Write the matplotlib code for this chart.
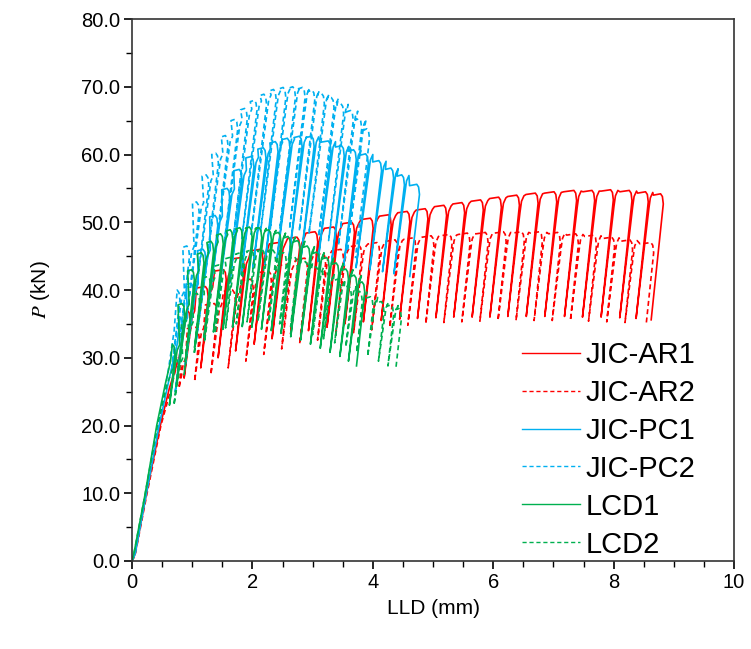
import matplotlib
matplotlib.use("Agg")
import matplotlib.pyplot as plt
from matplotlib.ticker import MultipleLocator, FormatStrFormatter

plt.rcParams['font.family'] = ['Liberation Sans', 'DejaVu Sans']
plt.rcParams['mathtext.fontset'] = 'stix'

# ---- data (LLD in mm, P in kN) ----
# initial loading branch before the first unloading
ar1_load_x = [0.0, 0.05, 0.24, 0.47, 0.62, 0.78]
ar1_load_P = [0.0, 1.0, 10.0, 20.0, 25.5, 30.0]
# peak LLD, peak load and load at the end of each unloading
ar1_x = [0.95, 1.25, 1.55, 1.85, 2.16, 2.46, 2.77, 3.07, 3.38, 3.68, 3.99, 4.29, 4.60, 4.90,
         5.21, 5.51, 5.82, 6.12, 6.42, 6.73, 7.04, 7.37, 7.67, 7.98, 8.29, 8.56, 8.81]
ar1_P = [37.0, 40.5, 43.0, 44.8, 46.0, 47.0, 47.8, 48.6, 49.3, 50.0, 50.6, 51.1, 51.6, 52.0,
         52.5, 52.9, 53.3, 53.7, 54.0, 54.3, 54.5, 54.7, 54.7, 54.8, 54.7, 54.5, 54.2]
ar1_low = [27.0, 28.5, 30.0, 31.0, 32.0, 32.8, 33.5, 34.0, 34.5, 35.0, 35.3, 35.5, 35.7, 35.8,
           35.9, 36.0, 36.0, 36.0, 36.1, 36.1, 36.1, 36.1, 36.0, 36.0, 35.9, 35.8, 35.6]

ar2_load_x = [0.0, 0.05, 0.25, 0.48, 0.65]
ar2_load_P = [0.0, 0.8, 10.0, 20.0, 25.5]
ar2_x = [0.80, 1.10, 1.40, 1.70, 2.00, 2.30, 2.60, 2.90, 3.20, 3.50, 3.80, 4.10, 4.40, 4.70,
         5.00, 5.30, 5.60, 5.90, 6.20, 6.50, 6.80, 7.10, 7.40, 7.70, 8.00, 8.30, 8.65]
ar2_P = [30.0, 34.5, 38.0, 40.0, 41.6, 42.8, 43.8, 44.7, 45.4, 46.0, 46.6, 47.0, 47.4, 47.7,
         48.0, 48.2, 48.4, 48.5, 48.6, 48.6, 48.6, 48.5, 48.3, 48.1, 47.8, 47.4, 47.0]
ar2_low = [25.5, 26.5, 27.5, 28.5, 29.5, 30.5, 31.3, 32.0, 32.6, 33.2, 33.7, 34.1, 34.5, 34.8,
           35.0, 35.2, 35.3, 35.4, 35.5, 35.5, 35.5, 35.5, 35.5, 35.4, 35.3, 35.2, 35.0]

pc1_load_x = [0.0, 0.05, 0.24, 0.45, 0.62, 0.75]
pc1_load_P = [0.0, 1.0, 10.0, 20.0, 27.0, 32.0]
pc1_x = [0.83, 1.01, 1.21, 1.41, 1.61, 1.81, 2.01, 2.21, 2.41, 2.61, 2.81, 3.01, 3.29, 3.51,
         3.71, 3.91, 4.13, 4.33, 4.51, 4.76]
pc1_P = [36.0, 41.0, 46.0, 51.0, 55.0, 57.8, 59.7, 61.0, 61.9, 62.4, 62.7, 62.7, 62.0, 61.3,
         60.7, 60.1, 59.1, 58.0, 57.0, 55.6]
pc1_low = [25.0, 29.0, 32.5, 36.0, 39.0, 41.0, 42.3, 43.2, 43.8, 44.2, 44.4, 44.4, 44.2, 43.9,
           43.6, 43.3, 43.0, 42.7, 42.4, 42.0]

pc2_load_x = [0.0, 0.05, 0.23, 0.44, 0.60, 0.70]
pc2_load_P = [0.0, 1.0, 10.0, 20.0, 28.0, 34.0]
pc2_x = [0.78, 0.94, 1.10, 1.26, 1.42, 1.58, 1.74, 1.90, 2.06, 2.22, 2.38, 2.54, 2.70, 2.86,
         3.02, 3.18, 3.34, 3.50, 3.66, 3.80, 3.93]
pc2_P = [40.0, 46.5, 53.0, 57.0, 60.2, 62.8, 65.2, 66.8, 68.0, 68.9, 69.6, 69.9, 70.0, 69.9,
         69.5, 69.0, 68.4, 67.5, 66.5, 65.3, 63.8]
pc2_low = [28.0, 32.5, 37.0, 40.0, 42.0, 44.0, 45.6, 46.8, 47.6, 48.2, 48.7, 49.0, 49.0, 49.0,
           48.7, 48.3, 47.9, 47.3, 46.6, 45.7, 44.7]

lcd1_load_x = [0.0, 0.04, 0.22, 0.41, 0.55, 0.64]
lcd1_load_P = [0.0, 1.5, 10.0, 20.0, 26.0, 29.5]
lcd1_x = [0.70, 0.86, 1.02, 1.18, 1.34, 1.50, 1.66, 1.82, 1.98, 2.14, 2.30, 2.46, 2.62, 2.78,
          2.94, 3.10, 3.26, 3.42, 3.58, 3.72, 3.85]
lcd1_P = [32.0, 38.0, 43.0, 45.5, 47.2, 48.3, 48.9, 49.2, 49.3, 49.2, 48.9, 48.5, 47.9, 47.3,
          46.5, 45.6, 44.8, 44.0, 43.1, 42.2, 41.2]
lcd1_low = [23.0, 26.5, 29.5, 31.5, 33.0, 33.8, 34.2, 34.5, 34.6, 34.5, 34.2, 34.0, 33.6, 33.1,
            32.6, 32.0, 31.4, 30.8, 30.2, 29.5, 28.8]

lcd2_load_x = [0.0, 0.04, 0.22, 0.42, 0.58, 0.68]
lcd2_load_P = [0.0, 1.5, 10.0, 20.0, 26.0, 28.5]
lcd2_x = [0.75, 0.93, 1.11, 1.29, 1.47, 1.65, 1.83, 2.01, 2.19, 2.37, 2.55, 2.73, 2.91, 3.09,
          3.27, 3.45, 3.63, 3.81, 3.99, 4.17, 4.33, 4.46]
lcd2_P = [30.0, 35.5, 39.5, 42.0, 43.7, 44.8, 45.5, 45.9, 46.0, 45.9, 45.5, 44.9, 44.2, 43.4,
          42.5, 41.6, 40.6, 39.8, 39.0, 38.3, 37.8, 37.3]
lcd2_low = [23.0, 27.5, 30.5, 32.3, 33.6, 34.4, 35.0, 35.3, 35.4, 35.3, 35.0, 34.6, 34.0, 33.4,
            32.8, 32.2, 31.6, 30.8, 30.2, 29.5, 28.8, 28.5]

labels = ['JIC-AR1', 'JIC-AR2', 'JIC-PC1', 'JIC-PC2', 'LCD1', 'LCD2']
colors = ['#FF0000', '#FF0000', '#00B0F0', '#00B0F0', '#00B050', '#00B050']
styles = ['-', '--', '-', '--', '-', '--']
unload_k = [85, 85, 75, 75, 80, 80]  # unloading stiffness, kN/mm


def cycle_path(lx, lp, cx, cp, cl, k):
    """Loading branch + partial unloading/reloading loops."""
    xs, ys = list(lx), list(lp)
    n = len(cx)
    for i in range(n):
        x0, p0, lo = cx[i], cp[i], cl[i]
        # rounded knee, then unload
        xs += [x0 - 0.03, x0, x0 + 0.015]
        ys += [p0, p0 - 0.4, p0 - 1.5]
        xb = x0 + 0.015 - (p0 - 1.5 - lo) / k
        xs.append(xb)
        ys.append(lo)
        if i == n - 1:
            break
        # reload and rejoin the envelope with a rounded top
        s = cx[i + 1] - x0
        pn = cp[i + 1]
        xs += [x0 + 0.025, x0 + 0.05, x0 + 0.09, x0 + 0.4 * s]
        ys += [p0 - 2.5, p0 - 0.9, p0 - 0.1, pn - 0.2]
    return xs, ys


series = [
    (ar1_load_x, ar1_load_P, ar1_x, ar1_P, ar1_low),
    (ar2_load_x, ar2_load_P, ar2_x, ar2_P, ar2_low),
    (pc1_load_x, pc1_load_P, pc1_x, pc1_P, pc1_low),
    (pc2_load_x, pc2_load_P, pc2_x, pc2_P, pc2_low),
    (lcd1_load_x, lcd1_load_P, lcd1_x, lcd1_P, lcd1_low),
    (lcd2_load_x, lcd2_load_P, lcd2_x, lcd2_P, lcd2_low),
]

fig = plt.figure(figsize=(7.51, 6.49), dpi=100)
ax = fig.add_axes([0.1758, 0.1356, 0.8016, 0.8351])

for (lx, lp, cx, cp, cl), lab, c, ls, k in zip(series, labels, colors, styles, unload_k):
    xs, ys = cycle_path(lx, lp, cx, cp, cl, k)
    line, = ax.plot(xs, ys, color=c, lw=1.2, label=lab)
    if ls == '--':
        line.set_dashes([3, 2])

ax.set_xlim(0, 10)
ax.set_ylim(0, 80)
ax.xaxis.set_major_locator(MultipleLocator(2))
ax.xaxis.set_minor_locator(MultipleLocator(0.5))
ax.yaxis.set_major_locator(MultipleLocator(10))
ax.yaxis.set_minor_locator(MultipleLocator(5))
ax.yaxis.set_major_formatter(FormatStrFormatter('%.1f'))
ax.tick_params(which='major', direction='out', length=6, width=1.2, labelsize=14.5, pad=2.5)
ax.tick_params(which='minor', direction='out', length=4, width=1.0)
for sp in ax.spines.values():
    sp.set_linewidth(1.2)
    sp.set_color('#333333')

ax.set_xlabel('LLD (mm)', fontsize=15, labelpad=5)
ax.set_ylabel(r'$\mathit{P}$ (kN)', fontsize=15, labelpad=21)

leg = ax.legend(loc='upper left', bbox_to_anchor=(0.647, 0.406), frameon=False, fontsize=21,
                borderpad=0, borderaxespad=0, handlelength=2.0, handletextpad=0.2,
                labelspacing=0.34)
for h in leg.get_lines():
    h.set_linewidth(1.0)

fig.savefig('out.png', dpi=100)
